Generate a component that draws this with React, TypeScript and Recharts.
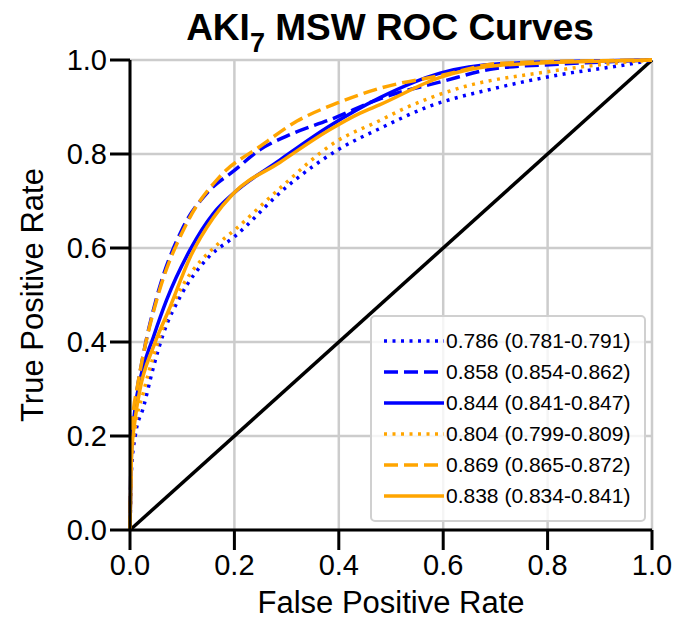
import { LineChart, Line, XAxis, YAxis, CartesianGrid, Legend } from "recharts";

const FONT = "'Liberation Sans', Arial, Helvetica, sans-serif";
const BLUE = "#0000ff";
const ORANGE = "#ffa500";

const ticks = [0, 0.2, 0.4, 0.6, 0.8, 1.0];

// false positive rate / true positive rate pairs
const blueDottedFpr = [0, 0.003, 0.01, 0.026, 0.045, 0.064, 0.096, 0.15, 0.2, 0.3, 0.4, 0.48, 0.57, 0.7, 0.82, 0.95, 1];
const blueDottedTpr = [0, 0.13, 0.2, 0.262, 0.347, 0.418, 0.496, 0.58, 0.624, 0.73, 0.81, 0.855, 0.9, 0.94, 0.968, 0.99, 1];

const blueDashedFpr = [0, 0.003, 0.01, 0.025, 0.05, 0.1, 0.15, 0.2, 0.25, 0.3, 0.39, 0.48, 0.6, 0.7, 0.82, 1];
const blueDashedTpr = [0, 0.2, 0.27, 0.37, 0.49, 0.64, 0.72, 0.765, 0.81, 0.838, 0.876, 0.918, 0.955, 0.982, 0.991, 1];

const blueSolidFpr = [0, 0.003, 0.01, 0.019, 0.045, 0.07, 0.115, 0.16, 0.198, 0.287, 0.38, 0.479, 0.594, 0.709, 1];
const blueSolidTpr = [0, 0.17, 0.26, 0.319, 0.411, 0.489, 0.596, 0.674, 0.716, 0.787, 0.858, 0.92, 0.972, 0.992, 1];

const orangeDottedFpr = [0, 0.003, 0.01, 0.025, 0.045, 0.07, 0.1, 0.17, 0.2, 0.29, 0.39, 0.48, 0.52, 0.63, 0.8, 0.9, 1];
const orangeDottedTpr = [0, 0.15, 0.22, 0.29, 0.37, 0.45, 0.518, 0.61, 0.638, 0.73, 0.823, 0.872, 0.894, 0.94, 0.975, 0.99, 1];

const orangeDashedFpr = [0, 0.003, 0.006, 0.013, 0.026, 0.051, 0.109, 0.172, 0.249, 0.32, 0.396, 0.479, 0.6, 0.71, 1];
const orangeDashedTpr = [0, 0.2, 0.248, 0.298, 0.376, 0.489, 0.653, 0.752, 0.816, 0.87, 0.908, 0.94, 0.968, 0.993, 1];

const orangeSolidFpr = [0, 0.003, 0.0096, 0.019, 0.045, 0.077, 0.115, 0.16, 0.198, 0.287, 0.38, 0.441, 0.479, 0.594, 0.709, 1];
const orangeSolidTpr = [0, 0.16, 0.234, 0.298, 0.39, 0.475, 0.58, 0.665, 0.716, 0.782, 0.85, 0.887, 0.905, 0.963, 0.989, 1];

const chanceFpr = [0, 1];
const chanceTpr = [0, 1];

const labels = [
  "0.786 (0.781-0.791)",
  "0.858 (0.854-0.862)",
  "0.844 (0.841-0.847)",
  "0.804 (0.799-0.809)",
  "0.869 (0.865-0.872)",
  "0.838 (0.834-0.841)",
];

const toPoints = (fpr: number[], tpr: number[]) => fpr.map((x, i) => ({ fpr: x, tpr: tpr[i] }));

const DOTTED = "3 5.5";
const DASHED = "14 6";

const series = [
  { name: labels[0], color: BLUE, dash: DOTTED, data: toPoints(blueDottedFpr, blueDottedTpr) },
  { name: labels[1], color: BLUE, dash: DASHED, data: toPoints(blueDashedFpr, blueDashedTpr) },
  { name: labels[2], color: BLUE, dash: undefined, data: toPoints(blueSolidFpr, blueSolidTpr) },
  { name: labels[3], color: ORANGE, dash: DOTTED, data: toPoints(orangeDottedFpr, orangeDottedTpr) },
  { name: labels[4], color: ORANGE, dash: DASHED, data: toPoints(orangeDashedFpr, orangeDashedTpr) },
  { name: labels[5], color: ORANGE, dash: undefined, data: toPoints(orangeSolidFpr, orangeSolidTpr) },
];

function RocLegend() {
  return (
    <div
      style={{
        boxSizing: "border-box",
        width: 276,
        height: 207,
        padding: "8px 0 0 11px",
        border: "2px solid #d0d0d0",
        borderRadius: 5,
        background: "rgba(255,255,255,0.8)",
        fontFamily: FONT,
        fontSize: 21,
        color: "#000",
      }}
    >
      {series.map((s) => (
        <div key={s.name} style={{ display: "flex", alignItems: "center", height: 31 }}>
          <svg width={62} height={10} style={{ marginRight: 1 }}>
            <line x1={1} y1={5} x2={61} y2={5} stroke={s.color} strokeWidth={3.5} strokeDasharray={s.dash} />
          </svg>
          <span style={{ whiteSpace: "nowrap" }}>{s.name}</span>
        </div>
      ))}
    </div>
  );
}

export default function App() {
  const axisLine = { stroke: "#000", strokeWidth: 3 };
  const tickStyle = { fill: "#000", fontSize: 29, fontFamily: FONT };
  return (
    <div style={{ position: "absolute", left: 0, top: 0, width: 679, height: 619, background: "#fff" }}>
      <svg width={679} height={60} style={{ position: "absolute", left: 0, top: 0 }}>
        <text x={390} y={40} textAnchor="middle" fontSize={37} fontWeight="bold" fontFamily={FONT} fill="#000">
          AKI
          <tspan fontSize={27} dy={12}>7</tspan>
          <tspan dy={-12}> MSW ROC Curves</tspan>
        </text>
      </svg>
      <LineChart width={679} height={619} margin={{ top: 60, right: 27, bottom: 0, left: 0 }}>
        <CartesianGrid stroke="#cccccc" strokeWidth={2.5} />
        <XAxis
          dataKey="fpr"
          type="number"
          domain={[0, 1]}
          ticks={ticks}
          tickFormatter={(v: number) => v.toFixed(1)}
          height={89}
          tickSize={20}
          tickMargin={4}
          tick={tickStyle}
          axisLine={axisLine}
          tickLine={axisLine}
          allowDuplicatedCategory={false}
          label={{
            content: () => (
              <text x={391} y={613} textAnchor="middle" fontSize={31} fontFamily={FONT} fill="#000">
                False Positive Rate
              </text>
            ),
          }}
        />
        <XAxis
          xAxisId="top"
          orientation="top"
          type="number"
          domain={[0, 1]}
          height={0}
          tick={false}
          tickLine={false}
          axisLine={axisLine}
        />
        <YAxis
          type="number"
          domain={[0, 1]}
          ticks={ticks}
          tickFormatter={(v: number) => v.toFixed(1)}
          width={130}
          tickSize={20}
          tickMargin={3}
          tick={tickStyle}
          axisLine={axisLine}
          tickLine={axisLine}
          label={{
            content: () => (
              <text
                x={43}
                y={295}
                transform="rotate(-90 43 295)"
                textAnchor="middle"
                fontSize={31}
                fontFamily={FONT}
                fill="#000"
              >
                True Positive Rate
              </text>
            ),
          }}
        />
        <YAxis
          yAxisId="right"
          orientation="right"
          type="number"
          domain={[0, 1]}
          width={0}
          tick={false}
          tickLine={false}
          axisLine={axisLine}
        />
        <Line
          data={toPoints(chanceFpr, chanceTpr)}
          dataKey="tpr"
          stroke="#000"
          strokeWidth={3.5}
          dot={false}
          legendType="none"
          isAnimationActive={false}
        />
        {series.map((s) => (
          <Line
            key={s.name}
            name={s.name}
            data={s.data}
            dataKey="tpr"
            type="monotone"
            stroke={s.color}
            strokeWidth={3.5}
            strokeDasharray={s.dash}
            dot={false}
            isAnimationActive={false}
          />
        ))}
        <Legend
          layout="vertical"
          align="center"
          verticalAlign="middle"
          content={() => <RocLegend />}
          wrapperStyle={{ left: 370, top: 315, width: 276, height: 207 }}
        />
      </LineChart>
    </div>
  );
}
